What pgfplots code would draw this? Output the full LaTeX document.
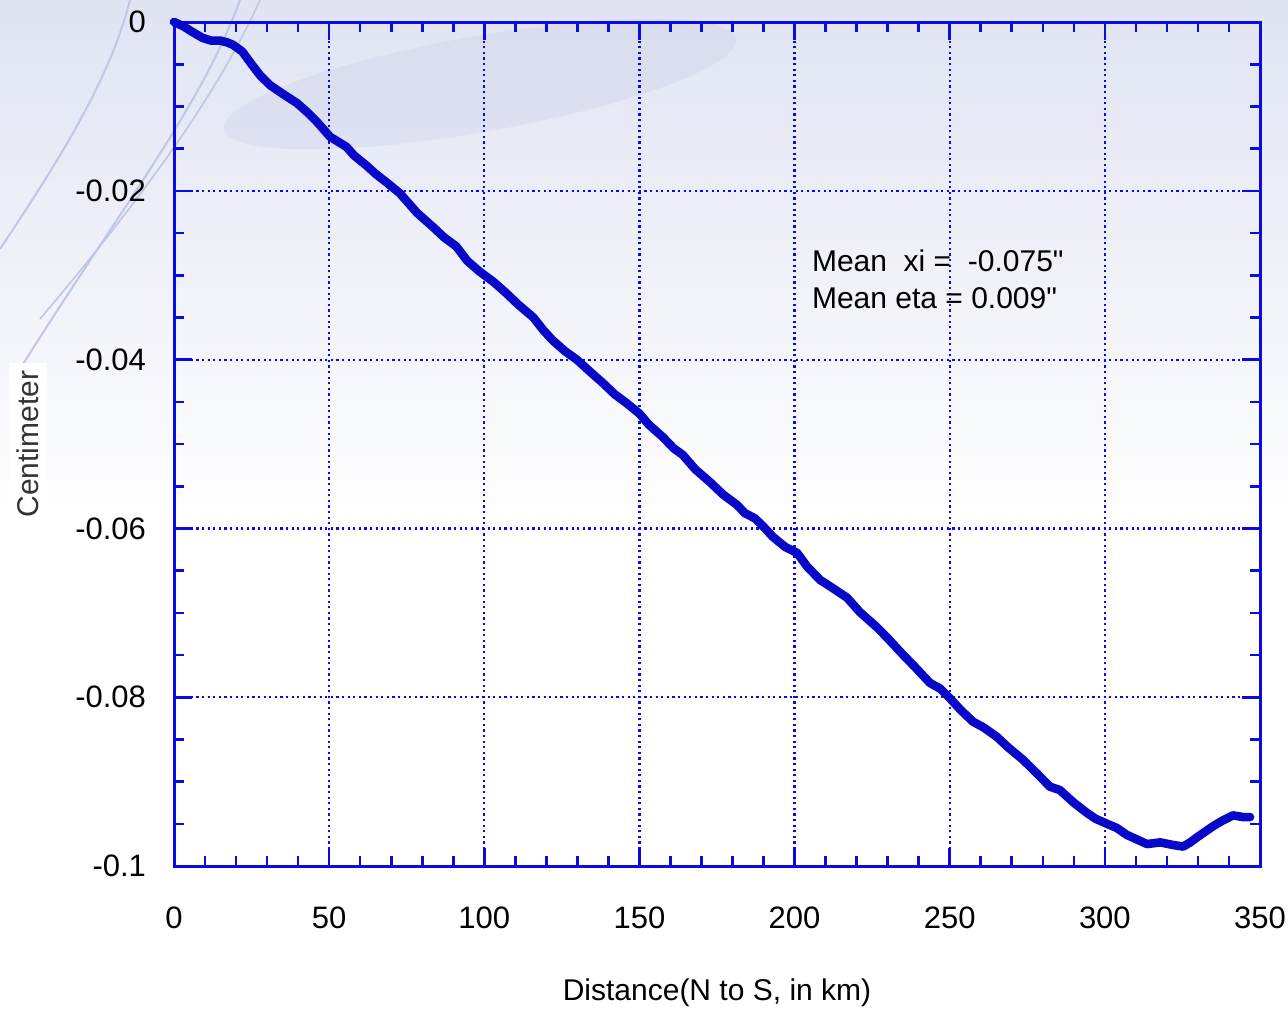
\documentclass[border=0pt]{standalone}
\usepackage{pgfplots}
\pgfplotsset{compat=1.18}
\usepackage{fontspec}
\setmainfont{Liberation Sans}
\newfontfamily\plainfont{Liberation Sans}
\definecolor{axblue}{RGB}{10,10,225}
\definecolor{curveblue}{RGB}{8,8,200}
\definecolor{bgtop}{RGB}{224,228,243}
\definecolor{arc}{RGB}{190,200,228}
\definecolor{blob}{RGB}{208,213,235}

\begin{document}
\begin{tikzpicture}
  % page and faint slide background (1 px = 0.5pt)
  \begin{scope}[x=0.5pt,y=0.5pt]
    \fill[white] (0,0) rectangle (1288,1009);
    \shade[top color=bgtop, bottom color=white] (0,480) rectangle (1288,1009);
    \begin{scope}
      \clip (0,0) rectangle (1288,1009);
      \fill[blob, opacity=0.45] (480,925) ellipse [x radius=260, y radius=48, rotate=10];
      \draw[arc, line width=1pt] (20,640) .. controls (120,800) and (200,900) .. (240,1009);
      \draw[arc, line width=1pt] (0,760) .. controls (60,850) and (110,930) .. (130,1009);
      \draw[arc, line width=0.8pt] (40,690) .. controls (150,820) and (220,920) .. (260,1009);
    \end{scope}
  \end{scope}
  \useasboundingbox (0,0) rectangle (644pt,504.5pt);

  \begin{axis}[
      at={(87pt,71.5pt)}, anchor=south west,
      scale only axis, width=543pt, height=422pt,
      xmin=0, xmax=350, ymin=-0.1, ymax=0,
      xtick={0,50,...,350},
      xticklabels={0,50,100,150,200,250,300,350},
      ytick={-0.1,-0.08,-0.06,-0.04,-0.02,0},
      yticklabels={-0.1,-0.08,-0.06,-0.04,-0.02,0},
      minor x tick num=4, minor y tick num=3,
      major tick length=9pt, minor tick length=5pt,
      tick align=inside,
      axis line style={axblue, line width=1.5pt},
      every tick/.style={axblue, line width=1.3pt},
      grid=major,
      major grid style={axblue, line width=1.1pt, dash pattern=on 1.1pt off 1.7pt},
      tick label style={font=\fontsize{15.5}{17}\selectfont, black},
      xticklabel style={yshift=-17pt},
      yticklabel style={xshift=-10.5pt},
      xlabel={Distance(N to S, in km)},
      ylabel={Centimeter},
      label style={font=\fontsize{15}{17}\selectfont},
      xlabel style={at={(axis description cs:0.5,0)}, anchor=center, yshift=-63.5pt},
      ylabel style={at={(axis description cs:-0.1344,0.5)}, anchor=center, fill=white, inner sep=4pt, text=black!80},
      clip=false,
    ]
    \addplot[curveblue, line width=4.3pt, line join=round, line cap=round] coordinates {
      (0,0) (3,-0.0005) (6,-0.0012) (9.3,-0.0019) (12,-0.0022) (14.8,-0.0022)
      (17,-0.0024) (19,-0.0027) (22,-0.0035) (25,-0.0050) (27.7,-0.0063)
      (31,-0.0075) (35,-0.0085) (39.6,-0.0096) (43,-0.0107) (46,-0.0118)
      (50.3,-0.0136) (55.6,-0.0148) (58,-0.0158) (62,-0.0170) (65,-0.0180)
      (68.5,-0.0190) (72.8,-0.0203) (78.3,-0.0226) (83.5,-0.0243) (87,-0.0255)
      (91,-0.0266) (94.5,-0.0283) (98.6,-0.0296) (103,-0.0308) (107,-0.0321)
      (111,-0.0335) (115.8,-0.0350) (119,-0.0365) (122,-0.0377) (126,-0.0390)
      (129.8,-0.0400) (134,-0.0414) (138.3,-0.0428) (142,-0.0441) (146,-0.0452)
      (150,-0.0464) (153,-0.0477) (157.6,-0.0492) (161,-0.0505) (164,-0.0513)
      (168,-0.0530) (172.7,-0.0545) (177,-0.0560) (181.4,-0.0572) (184,-0.0582)
      (187.2,-0.0588) (190,-0.0598) (193,-0.0610) (197,-0.0622) (200.8,-0.0629)
      (204,-0.0645) (208.2,-0.0661) (212,-0.0670) (216.9,-0.0682) (221,-0.0699)
      (226.5,-0.0717) (230,-0.0730) (234,-0.0746) (239,-0.0765) (243.6,-0.0783)
      (247,-0.0790) (250,-0.0801) (253.5,-0.0815) (257.5,-0.0829) (261,-0.0836)
      (265.2,-0.0847) (269,-0.0860) (273.6,-0.0874) (278,-0.0890) (282.3,-0.0906)
      (285.5,-0.0910) (290,-0.0925) (294.2,-0.0937) (297,-0.0944) (300.7,-0.0950)
      (303.9,-0.0955) (307,-0.0963) (310,-0.0968) (313.6,-0.0974) (317.8,-0.0972)
      (321.9,-0.0975) (325.2,-0.0977) (327.5,-0.0972) (329.7,-0.0966) (334.8,-0.0953)
      (338,-0.0946) (341.3,-0.0940) (344.5,-0.0942) (346.8,-0.0942)
    };
    \node[anchor=west, font=\plainfont\fontsize{15}{17}\selectfont, inner sep=0pt] at (axis cs:205.5,-0.0283) {Mean\ \ xi =\ \ -0.075"};
    \node[anchor=west, font=\plainfont\fontsize{15}{17}\selectfont, inner sep=0pt] at (axis cs:205.5,-0.0327) {Mean eta = 0.009"};
  \end{axis}
\end{tikzpicture}
\end{document}
